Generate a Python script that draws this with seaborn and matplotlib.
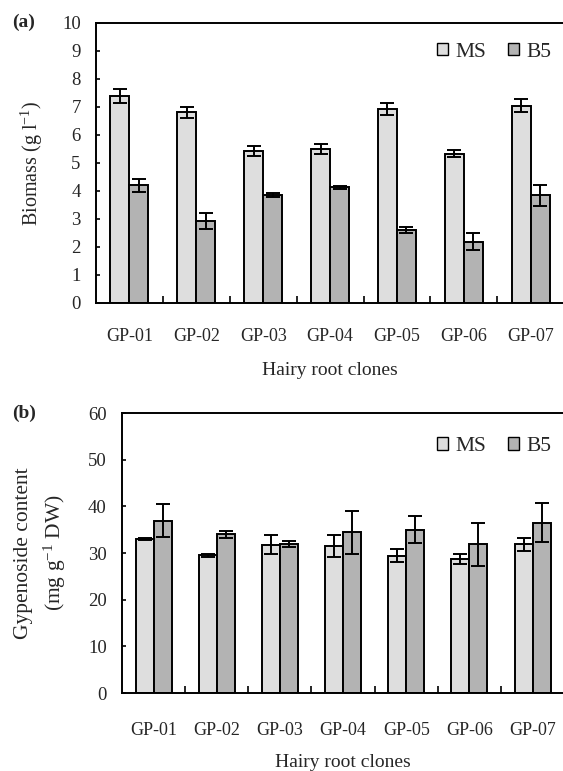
import numpy as np
import pandas as pd
import seaborn as sns
import matplotlib.pyplot as plt
from matplotlib.patches import Patch

clones = ["GP-01", "GP-02", "GP-03", "GP-04", "GP-05", "GP-06", "GP-07"]
media = ["MS", "B5"]

biomass_ms = [7.40, 6.81, 5.44, 5.50, 6.93, 5.33, 7.05]
biomass_ms_err = [0.24, 0.19, 0.18, 0.18, 0.22, 0.12, 0.23]
biomass_b5 = [4.20, 2.92, 3.85, 4.13, 2.61, 2.19, 3.85]
biomass_b5_err = [0.23, 0.29, 0.07, 0.05, 0.11, 0.30, 0.38]

gyp_ms = [33.0, 29.5, 31.8, 31.5, 29.4, 28.7, 31.9]
gyp_ms_err = [0.3, 0.3, 2.1, 2.4, 1.4, 1.0, 1.4]
gyp_b5 = [36.9, 34.0, 31.9, 34.4, 35.0, 31.9, 36.5]
gyp_b5_err = [3.5, 0.8, 0.6, 4.6, 2.9, 4.6, 4.2]

colors = {"MS": "#dedede", "B5": "#b3b3b3"}

sns.set_theme(style="white")
plt.rcParams["font.family"] = ["Liberation Serif", "DejaVu Serif"]
plt.rcParams["mathtext.fontset"] = "custom"
plt.rcParams["mathtext.rm"] = "Liberation Serif"
plt.rcParams["mathtext.it"] = "Liberation Serif:italic"

fig = plt.figure(figsize=(5.63, 7.71), dpi=100)
ax1 = fig.add_axes([96 / 563, 1 - 303 / 771, 1.0 - 96 / 563 + 0.002, 280 / 771])
ax2 = fig.add_axes([122 / 563, 1 - 693 / 771, 1.0 - 122 / 563 + 0.002, 280 / 771])


def draw(ax, ms, ms_err, b5, b5_err, ymax, ystep, xpad, lpad):
    df = pd.DataFrame({
        "clone": clones * 2,
        "medium": ["MS"] * len(clones) + ["B5"] * len(clones),
        "value": list(ms) + list(b5),
    })
    sns.barplot(data=df, x="clone", y="value", hue="medium", order=clones,
                hue_order=media, palette=colors, saturation=1, width=0.57,
                edgecolor="black", linewidth=1.4, errorbar=None, legend=False,
                ax=ax)
    for cont, err in zip(ax.containers, [ms_err, b5_err]):
        for bar, e in zip(cont, err):
            xc = bar.get_x() + bar.get_width() / 2
            ax.errorbar(xc, bar.get_height(), yerr=e, fmt="none",
                        ecolor="black", elinewidth=1.4, capsize=5,
                        capthick=1.4, zorder=5)
    ax.set_xlim(-0.5, len(clones) - 0.5)
    ax.set_ylim(0, ymax)
    ax.set_yticks(np.arange(0, ymax + ystep / 2, ystep))
    ax.set_xticks(np.arange(0.5, len(clones) - 0.5, 1.0), minor=True)
    ax.tick_params(axis="x", which="major", length=0, labelsize=13, pad=xpad)
    ax.tick_params(axis="x", which="minor", direction="in", length=5,
                   width=1.2, color="black", bottom=True)
    ax.tick_params(axis="y", which="major", direction="in", length=3,
                   width=1.2, color="black", left=True, labelsize=13.5, pad=11)
    for sp in ax.spines.values():
        sp.set_visible(True)
        sp.set_color("black")
        sp.set_linewidth(1.4)
    ax.set_xlabel("Hairy root clones", fontsize=14, labelpad=lpad)
    handles = [Patch(facecolor=colors[m], edgecolor="black", linewidth=1.0,
                     label=m) for m in media]
    return handles


legend_kw = dict(loc="upper right", ncol=2, frameon=False, fontsize=15.5,
                 handlelength=0.5, handleheight=0.5, handletextpad=0.35,
                 columnspacing=1.0, borderaxespad=0.2)

h = draw(ax1, biomass_ms, biomass_ms_err, biomass_b5, biomass_b5_err, 10, 1,
         18, 12)
ax1.set_ylabel("Biomass (g l$^{-1}$)", fontsize=14.5, va="center")
ax1.yaxis.set_label_coords(-0.137, 0.5)
ax1.legend(handles=h, bbox_to_anchor=(1.0, 0.975), **legend_kw)

h = draw(ax2, gyp_ms, gyp_ms_err, gyp_b5, gyp_b5_err, 60, 10, 21, 11)
ax2.set_ylabel("Gypenoside content\n(mg g$^{-1}$ DW)", fontsize=15.5,
               linespacing=1.45, va="center")
ax2.yaxis.set_label_coords((41 - 122) / 441, 0.5)
ax2.legend(handles=h, bbox_to_anchor=(1.0, 0.96), **legend_kw)

fig.text(12 / 563, 1 - 22 / 771, "(a)", fontsize=14, fontweight="bold",
         va="center", ha="left")
fig.text(12 / 563, 1 - 413 / 771, "(b)", fontsize=14, fontweight="bold",
         va="center", ha="left")

fig.savefig("out.png", dpi=100)
